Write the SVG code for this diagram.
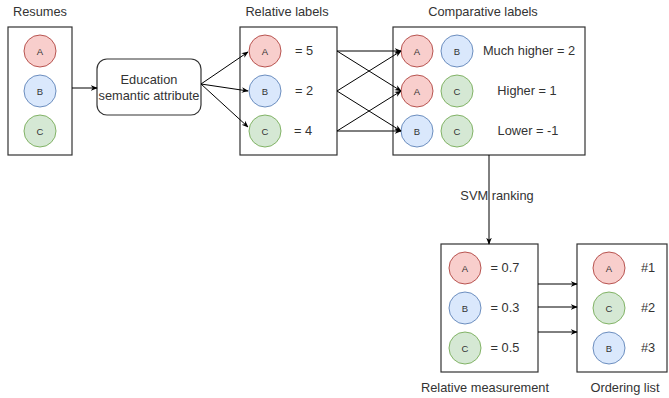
<svg xmlns="http://www.w3.org/2000/svg" width="669" height="398" viewBox="0 0 669 398">
<defs>
<marker id="arr" viewBox="0 0 10 10" refX="9" refY="5" markerWidth="7" markerHeight="7" orient="auto" markerUnits="userSpaceOnUse">
<path d="M0,1 L10,5 L0,9 L3,5 Z" fill="#000"/>
</marker>
</defs>
<style>
text{font-family:"Liberation Sans",Arial,sans-serif;fill:#333;}
.t{font-size:12.8px;}
.c{font-size:9.5px;text-anchor:middle;dominant-baseline:central;}
.box{fill:#fff;stroke:#333;stroke-width:1.2;}
.r{fill:#f8cecc;stroke:#b85450;}
.b{fill:#dae8fc;stroke:#6c8ebf;}
.g{fill:#d5e8d4;stroke:#82b366;}
.e{stroke:#000;stroke-width:1;fill:none;marker-end:url(#arr);}
</style>
<rect width="669" height="398" fill="#fff"/>
<g id="titles">
<text x="40" y="16" text-anchor="middle" class="t">Resumes</text>
<text x="287" y="16" text-anchor="middle" class="t">Relative labels</text>
<text x="483" y="16" text-anchor="middle" class="t">Comparative labels</text>
<text x="485" y="392" text-anchor="middle" class="t">Relative measurement</text>
<text x="625" y="392" text-anchor="middle" class="t">Ordering list</text>
</g>
<g id="resumes">
<rect class="box" x="8" y="27" width="64" height="128"/>
<circle class="r" cx="40" cy="51" r="16"/><text class="c" x="40" y="51">A</text>
<circle class="b" cx="40" cy="91" r="16"/><text class="c" x="40" y="91">B</text>
<circle class="g" cx="40" cy="131" r="16"/><text class="c" x="40" y="131">C</text>
</g>
<g id="education">
<rect class="box" x="97" y="59" width="104" height="56" rx="10"/>
<text class="t" x="149" y="84" text-anchor="middle">Education</text>
<text class="t" x="149" y="100" text-anchor="middle">semantic attribute</text>
</g>
<g id="relative-labels">
<rect class="box" x="240" y="27" width="97" height="128"/>
<circle class="r" cx="265" cy="51" r="16"/><text class="c" x="265" y="51">A</text>
<circle class="b" cx="265" cy="91" r="16"/><text class="c" x="265" y="91">B</text>
<circle class="g" cx="265" cy="131" r="16"/><text class="c" x="265" y="131">C</text>
<text class="t" x="304" y="55" text-anchor="middle">= 5</text>
<text class="t" x="304" y="95" text-anchor="middle">= 2</text>
<text class="t" x="303" y="135" text-anchor="middle">= 4</text>
</g>
<g id="comparative-labels">
<rect class="box" x="393" y="27" width="192" height="128"/>
<circle class="r" cx="417" cy="51" r="16"/><text class="c" x="417" y="51">A</text>
<circle class="b" cx="457" cy="51" r="16"/><text class="c" x="457" y="51">B</text>
<circle class="r" cx="417" cy="91" r="16"/><text class="c" x="417" y="91">A</text>
<circle class="g" cx="457" cy="91" r="16"/><text class="c" x="457" y="91">C</text>
<circle class="b" cx="417" cy="131" r="16"/><text class="c" x="417" y="131">B</text>
<circle class="g" cx="457" cy="131" r="16"/><text class="c" x="457" y="131">C</text>
<text class="t" x="529" y="55" text-anchor="middle">Much higher = 2</text>
<text class="t" x="527" y="95" text-anchor="middle">Higher = 1</text>
<text class="t" x="528" y="135" text-anchor="middle">Lower = -1</text>
</g>
<g id="relative-measurement">
<rect class="box" x="441" y="244" width="97" height="128"/>
<circle class="r" cx="465" cy="268" r="16"/><text class="c" x="465" y="268">A</text>
<circle class="b" cx="465" cy="308" r="16"/><text class="c" x="465" y="308">B</text>
<circle class="g" cx="465" cy="348" r="16"/><text class="c" x="465" y="348">C</text>
<text class="t" x="505" y="272" text-anchor="middle">= 0.7</text>
<text class="t" x="505" y="312" text-anchor="middle">= 0.3</text>
<text class="t" x="505" y="352" text-anchor="middle">= 0.5</text>
</g>
<g id="ordering-list">
<rect class="box" x="577" y="244" width="90" height="128"/>
<circle class="r" cx="609" cy="268" r="16"/><text class="c" x="609" y="268">A</text>
<circle class="g" cx="609" cy="308" r="16"/><text class="c" x="609" y="308">C</text>
<circle class="b" cx="609" cy="348" r="16"/><text class="c" x="609" y="348">B</text>
<text class="t" x="648" y="272" text-anchor="middle">#1</text>
<text class="t" x="648" y="312" text-anchor="middle">#2</text>
<text class="t" x="648" y="352" text-anchor="middle">#3</text>
</g>
<g id="connectors">
<line class="e" x1="72" y1="88" x2="97" y2="88"/>
<line class="e" x1="201" y1="84" x2="248" y2="52"/>
<line class="e" x1="201" y1="84" x2="248" y2="91"/>
<line class="e" x1="201" y1="84" x2="248" y2="127"/>
<line class="e" x1="337" y1="51" x2="401" y2="51"/>
<line class="e" x1="337" y1="51" x2="401" y2="91"/>
<line class="e" x1="337" y1="91" x2="401" y2="51"/>
<line class="e" x1="337" y1="91" x2="401" y2="131"/>
<line class="e" x1="337" y1="131" x2="401" y2="91"/>
<line class="e" x1="337" y1="131" x2="401" y2="131"/>
<line class="e" x1="489" y1="155" x2="489" y2="244"/>
<text class="t" x="497" y="200" text-anchor="middle">SVM ranking</text>
<line class="e" x1="538" y1="284" x2="577" y2="284"/>
<line class="e" x1="538" y1="307" x2="577" y2="307"/>
<line class="e" x1="538" y1="332" x2="577" y2="332"/>
</g>
</svg>
